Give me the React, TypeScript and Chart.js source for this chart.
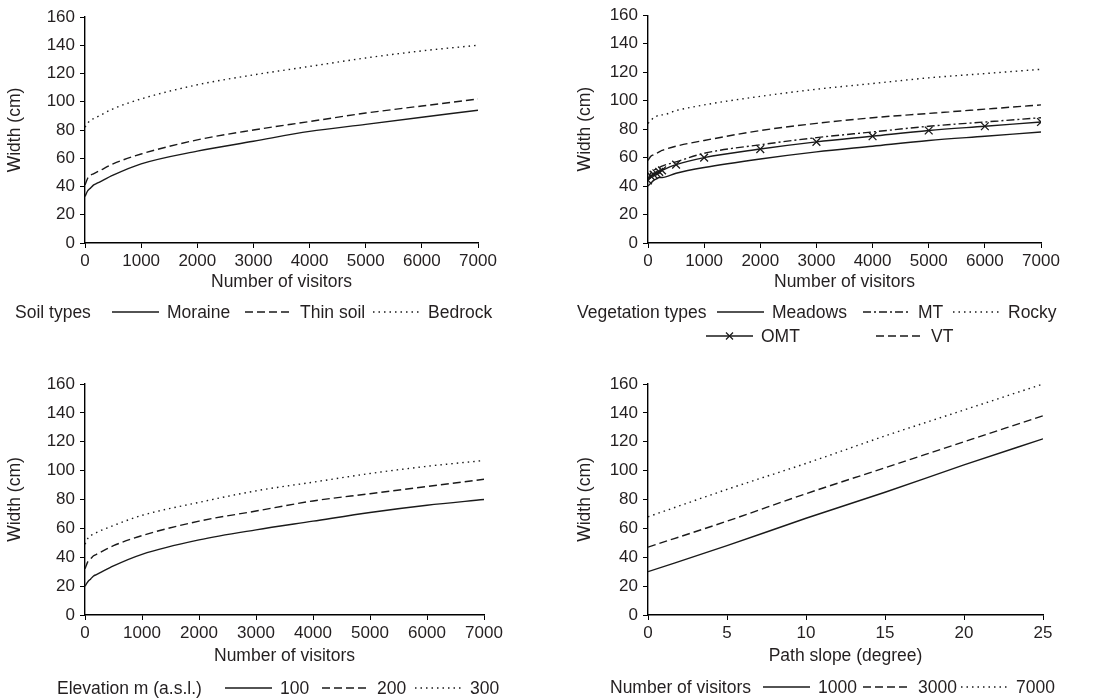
import React, { useEffect, useRef } from "react";
import { Chart, registerables } from "chart.js";

Chart.register(...registerables);

// ---------- DATA ----------
const visitors = [0, 50, 100, 150, 200, 250, 500, 1000, 2000, 3000, 4000, 5000, 6000, 7000];

// Soil types
const moraine = [33, 37, 39, 41, 42, 43, 48, 56, 65, 72, 79, 84, 89, 94];
const thinSoil = [41, 46, 48, 49, 50, 51, 56, 63, 73, 80, 86, 92, 97, 102];
const bedrock = [82, 85, 87, 88, 89, 90, 95, 102, 112, 119, 125, 131, 136, 140];

// Vegetation types
const meadows = [40, 42, 44, 45, 46, 46, 49, 53, 59, 64, 68, 72, 75, 78];
const omt = [44, 47, 48, 49, 50, 51, 55, 60, 66, 71, 75, 79, 82, 85];
const mt = [45, 49, 51, 52, 53, 54, 57, 63, 69, 74, 78, 82, 85, 88];
const vt = [58, 61, 62, 63, 64, 65, 68, 72, 79, 84, 88, 91, 94, 97];
const rocky = [84, 86, 88, 89, 90, 90, 93, 97, 103, 108, 112, 116, 119, 122];

// Elevation
const elev100 = [20, 23, 25, 27, 28, 29, 34, 42, 52, 59, 65, 71, 76, 80];
const elev200 = [32, 37, 39, 41, 42, 43, 48, 55, 65, 72, 79, 84, 89, 94];
const elev300 = [49, 53, 55, 56, 57, 58, 62, 69, 78, 86, 92, 98, 103, 107];

// Path slope
const slope = [0, 5, 10, 15, 20, 25];
const vis1000 = [30, 48, 67, 85, 104, 122];
const vis3000 = [47, 65, 84, 102, 120, 138];
const vis7000 = [68, 87, 105, 124, 142, 160];

const visitorTicks = [0, 1000, 2000, 3000, 4000, 5000, 6000, 7000];
const slopeTicks = [0, 5, 10, 15, 20, 25];
const widthTicks = [0, 20, 40, 60, 80, 100, 120, 140, 160];

// ---------- STYLE ----------
const FONT = "'Liberation Sans', Arial, Helvetica, sans-serif";
const TEXT = "#231f20";
const LINE = "#1a1a1a";
const SOLID: number[] = [];
const DASHED = [8, 4];
const DOTTED = [1.5, 4];
const DASHDOT = [8, 3, 2, 3];
const LW = 1.4;

type Series = { label: string; values: number[]; dash: number[]; marker?: boolean };

function makeDatasets(xs: number[], series: Series[]) {
  return series.map((s) => ({
    label: s.label,
    data: xs.map((x, i) => ({ x, y: s.values[i] })),
    borderColor: LINE,
    backgroundColor: LINE,
    borderWidth: LW,
    borderDash: s.dash,
    pointStyle: "crossRot",
    pointRadius: s.marker ? 5.5 : 0,
    pointBorderWidth: 1.3,
    pointBorderColor: LINE,
    pointHoverRadius: 0,
    cubicInterpolationMode: "monotone",
    fill: false,
  }));
}

type LegendItem = { idx: number; x: number; y: number };
type LegendCfg = { title: string; x: number; y: number; items: LegendItem[] };

const customLegend = {
  id: "customLegend",
  afterDraw(chart: any, _args: any, opts: any) {
    if (!opts || !opts.title) return;
    const ctx = chart.ctx;
    ctx.save();
    ctx.font = `17.5px ${FONT}`;
    ctx.fillStyle = TEXT;
    ctx.textBaseline = "middle";
    ctx.textAlign = "left";
    const L = 47;
    ctx.fillText(opts.title, opts.x, opts.y + 1);
    (opts.items as LegendItem[]).forEach(({ idx, x, y }) => {
      const ds = chart.data.datasets[idx];
      ctx.save();
      ctx.strokeStyle = LINE;
      ctx.lineWidth = LW;
      ctx.setLineDash(ds.borderDash || []);
      ctx.beginPath();
      ctx.moveTo(x, y);
      ctx.lineTo(x + L, y);
      ctx.stroke();
      ctx.setLineDash([]);
      if (ds.pointRadius > 0) {
        const r = 3.5;
        const cx = x + L / 2;
        ctx.lineWidth = 1.2;
        ctx.beginPath();
        ctx.moveTo(cx - r, y - r);
        ctx.lineTo(cx + r, y + r);
        ctx.moveTo(cx - r, y + r);
        ctx.lineTo(cx + r, y - r);
        ctx.stroke();
      }
      ctx.restore();
      ctx.fillText(ds.label, x + L + 8, y + 1);
    });
    ctx.restore();
  },
};

type PanelCfg = {
  left: number;
  top: number;
  width: number;
  height: number;
  xs: number[];
  series: Series[];
  xMax: number;
  xTicks: number[];
  xTitle: string;
  pad: { left: number; top: number; right: number; bottom: number };
  yWidth: number;
  xHeight: number;
  yTitlePad: number;
  legend: LegendCfg;
};

function Panel({ cfg }: { cfg: PanelCfg }) {
  const ref = useRef<HTMLCanvasElement>(null);
  useEffect(() => {
    if (!ref.current) return;
    const tickFont = { family: FONT, size: 17 };
    const titleFont = { family: FONT, size: 17.5 };
    const chart = new Chart(ref.current, {
      type: "line",
      data: { datasets: makeDatasets(cfg.xs, cfg.series) as any },
      options: {
        responsive: false,
        animation: false,
        events: [],
        layout: { padding: cfg.pad },
        plugins: {
          legend: { display: false },
          tooltip: { enabled: false },
          customLegend: cfg.legend,
        } as any,
        scales: {
          x: {
            type: "linear",
            min: 0,
            max: cfg.xMax,
            afterFit: (s: any) => {
              s.height = cfg.xHeight;
            },
            afterBuildTicks: (s: any) => {
              s.ticks = cfg.xTicks.map((v) => ({ value: v }));
            },
            ticks: {
              font: tickFont,
              color: TEXT,
              padding: 3,
              maxRotation: 0,
              autoSkip: false,
              callback: (v: any) => String(v),
            },
            grid: { drawOnChartArea: false, drawTicks: true, tickLength: 5, color: "#000", lineWidth: 1 },
            border: { display: true, color: "#000", width: 1.4 },
            title: {
              display: true,
              text: cfg.xTitle,
              font: titleFont,
              color: TEXT,
              padding: { top: 0, bottom: 0 },
            },
          },
          y: {
            type: "linear",
            min: 0,
            max: 160,
            afterFit: (s: any) => {
              s.width = cfg.yWidth;
            },
            afterBuildTicks: (s: any) => {
              s.ticks = widthTicks.map((v) => ({ value: v }));
            },
            ticks: { font: tickFont, color: TEXT, padding: 5, autoSkip: false, callback: (v: any) => String(v) },
            grid: { drawOnChartArea: false, drawTicks: true, tickLength: 5, color: "#000", lineWidth: 1 },
            border: { display: true, color: "#000", width: 1.4 },
            title: {
              display: true,
              text: "Width (cm)",
              font: titleFont,
              color: TEXT,
              padding: { top: cfg.yTitlePad, bottom: 0 },
            },
          },
        },
      } as any,
      plugins: [customLegend],
    });
    return () => chart.destroy();
  }, [cfg]);
  return (
    <canvas
      ref={ref}
      width={cfg.width}
      height={cfg.height}
      style={{
        position: "absolute",
        left: cfg.left,
        top: cfg.top,
        width: cfg.width,
        height: cfg.height,
      }}
    />
  );
}

const panels: PanelCfg[] = [
  {
    left: 0,
    top: 0,
    width: 548,
    height: 340,
    xs: visitors,
    series: [
      { label: "Moraine", values: moraine, dash: SOLID },
      { label: "Thin soil", values: thinSoil, dash: DASHED },
      { label: "Bedrock", values: bedrock, dash: DOTTED },
    ],
    xMax: 7000,
    xTicks: visitorTicks,
    xTitle: "Number of visitors",
    pad: { left: 0, top: 17, right: 70, bottom: 47 },
    yWidth: 85,
    xHeight: 50,
    yTitlePad: 5,
    legend: {
      title: "Soil types",
      x: 15,
      y: 312,
      items: [
        { idx: 0, x: 112, y: 312 },
        { idx: 1, x: 245, y: 312 },
        { idx: 2, x: 373, y: 312 },
      ],
    },
  },
  {
    left: 548,
    top: 0,
    width: 548,
    height: 352,
    xs: visitors,
    series: [
      { label: "Meadows", values: meadows, dash: SOLID },
      { label: "MT", values: mt, dash: DASHDOT },
      { label: "Rocky", values: rocky, dash: DOTTED },
      { label: "OMT", values: omt, dash: SOLID, marker: true },
      { label: "VT", values: vt, dash: DASHED },
    ],
    xMax: 7000,
    xTicks: visitorTicks,
    xTitle: "Number of visitors",
    pad: { left: 0, top: 12, right: 55, bottom: 59 },
    yWidth: 100,
    xHeight: 50,
    yTitlePad: 27,
    legend: {
      title: "Vegetation types",
      x: 29,
      y: 312,
      items: [
        { idx: 0, x: 169, y: 312 },
        { idx: 1, x: 315, y: 312 },
        { idx: 2, x: 405, y: 312 },
        { idx: 3, x: 158, y: 336 },
        { idx: 4, x: 328, y: 336 },
      ],
    },
  },
  {
    left: 0,
    top: 340,
    width: 548,
    height: 359,
    xs: visitors,
    series: [
      { label: "100", values: elev100, dash: SOLID },
      { label: "200", values: elev200, dash: DASHED },
      { label: "300", values: elev300, dash: DOTTED },
    ],
    xMax: 7000,
    xTicks: visitorTicks,
    xTitle: "Number of visitors",
    pad: { left: 0, top: 44, right: 64, bottom: 32 },
    yWidth: 85,
    xHeight: 52,
    yTitlePad: 5,
    legend: {
      title: "Elevation m (a.s.l.)",
      x: 57,
      y: 348,
      items: [
        { idx: 0, x: 225, y: 348 },
        { idx: 1, x: 322, y: 348 },
        { idx: 2, x: 415, y: 348 },
      ],
    },
  },
  {
    left: 548,
    top: 340,
    width: 548,
    height: 359,
    xs: slope,
    series: [
      { label: "1000", values: vis1000, dash: SOLID },
      { label: "3000", values: vis3000, dash: DASHED },
      { label: "7000", values: vis7000, dash: DOTTED },
    ],
    xMax: 25,
    xTicks: slopeTicks,
    xTitle: "Path slope (degree)",
    pad: { left: 0, top: 44, right: 53, bottom: 32 },
    yWidth: 100,
    xHeight: 52,
    yTitlePad: 27,
    legend: {
      title: "Number of visitors",
      x: 62,
      y: 347,
      items: [
        { idx: 0, x: 215, y: 347 },
        { idx: 1, x: 315, y: 347 },
        { idx: 2, x: 413, y: 347 },
      ],
    },
  },
];

export default function App() {
  return (
    <div
      style={{
        position: "absolute",
        left: 0,
        top: 0,
        width: 1096,
        height: 699,
        background: "#fff",
        overflow: "hidden",
      }}
    >
      {panels.map((p, i) => (
        <Panel key={i} cfg={p} />
      ))}
    </div>
  );
}
